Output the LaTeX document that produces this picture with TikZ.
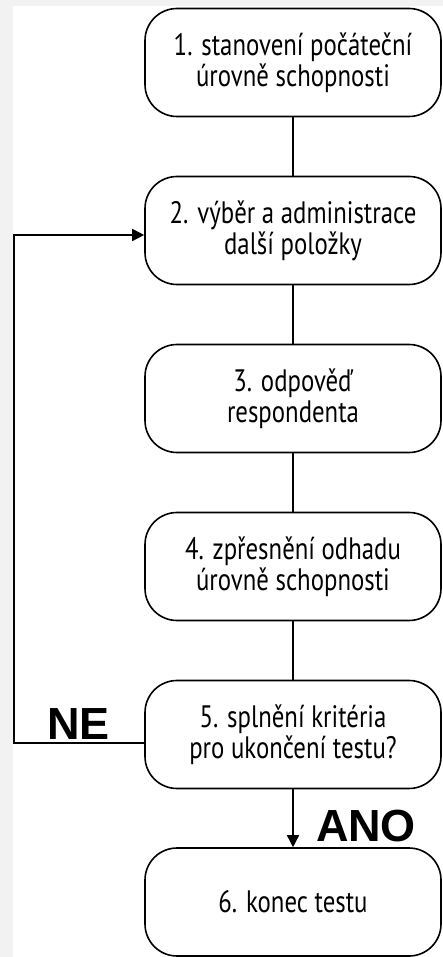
\documentclass[tikz,border=0pt]{standalone}
\usepackage{fontspec}
\setmainfont[FakeStretch=0.8]{PT Sans}
\newfontfamily\labelfont{Liberation Sans}
\usetikzlibrary{arrows.meta}

\begin{document}
\begin{tikzpicture}[
    x=1pt, y=1pt,
    stepbox/.style={rectangle, draw, line width=1.6pt, rounded corners=32pt, minimum width=296pt, minimum height=108pt, align=center, font=\fontsize{31}{31}\selectfont},
    link/.style={line width=1.6pt},
    arrow/.style={-{Triangle[length=12pt, width=12pt]}, line width=1.6pt},
    answer/.style={font=\labelfont\bfseries\fontsize{45}{45}\selectfont, inner sep=0pt}
]

% page
\fill[gray!10] (0,0) rectangle (443,-957);
\fill[white] (13,-6) rectangle (443,-957);
\useasboundingbox (0,0) rectangle (443,-957);

% steps
\node[stepbox] (step1) at (293,-62.5) {1. stanovení počáteční\\úrovně schopnosti};
\node[stepbox] (step2) at (293,-230.5) {2. výběr a administrace\\další položky};
\node[stepbox] (step3) at (293,-398.5) {3. odpověď\\respondenta};
\node[stepbox] (step4) at (293,-566.5) {4. zpřesnění odhadu\\úrovně schopnosti};
\node[stepbox] (step5) at (293,-734.5) {5. splnění kritéria\\pro ukončení testu?};
\node[stepbox] (step6) at (293,-902) {6. konec testu};

% links
\draw[link] (step1) -- (step2);
\draw[link] (step2) -- (step3);
\draw[link] (step3) -- (step4);
\draw[link] (step4) -- (step5);

% answers
\node[answer] (ano) at (366,-826) {ANO};
\node[answer] (ne) at (78.5,-724.5) {NE};
\draw[arrow] (step5) -- (step6);

% loop back
\coordinate (loop_bottom) at (14,-743);
\coordinate (loop_top) at (14,-235);
\draw[arrow] ([yshift=-8.5pt]step5.west) -- (loop_bottom) -- (loop_top) -- ([yshift=-4.5pt]step2.west);

\end{tikzpicture}
\end{document}
